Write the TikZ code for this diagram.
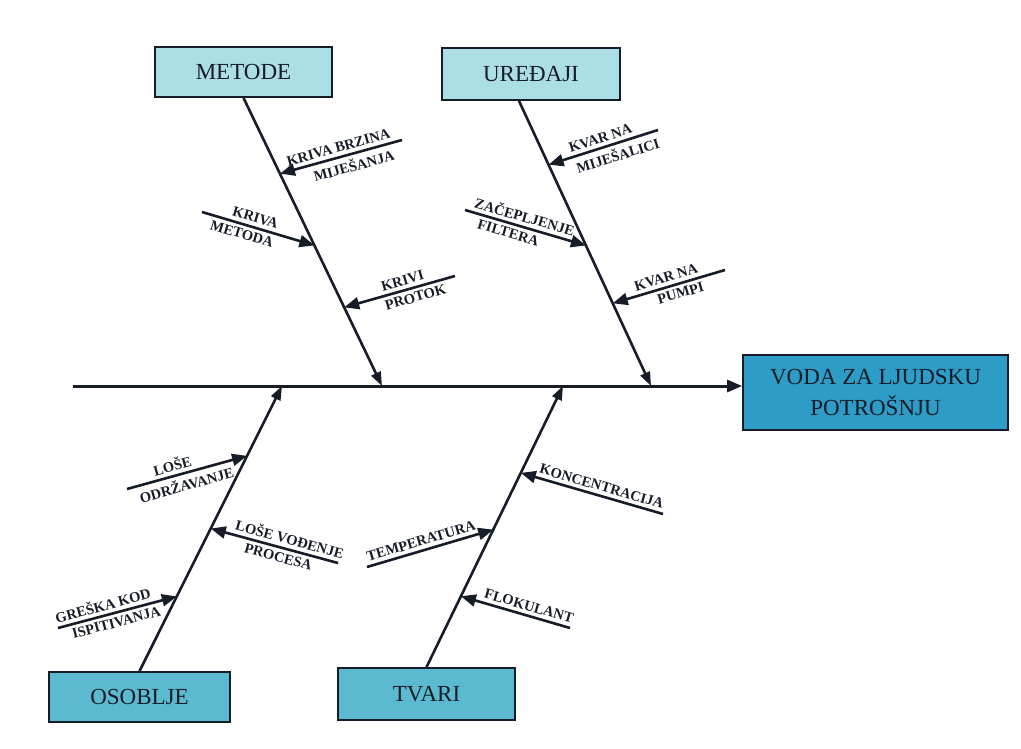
\documentclass[tikz,border=0pt]{standalone}
\usepackage{fontspec}
\setmainfont{Liberation Serif}
\usetikzlibrary{calc,arrows.meta}
\definecolor{lightbox}{RGB}{172,222,230}
\definecolor{midbox}{RGB}{92,186,208}
\definecolor{darkbox}{RGB}{45,156,198}
\definecolor{ink}{RGB}{22,28,40}
\tikzset{
  catbox/.style={draw=ink, line width=1.8pt, text=ink, font=\fontsize{23}{31}\selectfont, align=center, inner sep=0pt},
  spine/.style={draw=ink, line width=2.6pt, -{Triangle[length=14pt,width=10pt]}},
  bone/.style={draw=ink, line width=2.6pt, -{Triangle[length=15pt,width=12pt]}},
  lbl/.style={font=\bfseries\fontsize{14.5}{16}\selectfont, text=ink, sloped, inner sep=3.5pt}
}
\begin{document}
\begin{tikzpicture}[x=1pt,y=-1pt]
\useasboundingbox (0,0) rectangle (1021,749);
% category boxes
\node[catbox, fill=lightbox, minimum width=177pt, minimum height=50pt] (met) at (243.5,72) {METODE};
\node[catbox, fill=lightbox, minimum width=178pt, minimum height=52pt] (ure) at (531,74) {UREĐAJI};
\node[catbox, fill=midbox, minimum width=181pt, minimum height=50pt] (oso) at (139.5,697) {OSOBLJE};
\node[catbox, fill=midbox, minimum width=177pt, minimum height=52pt] (tva) at (426.5,694) {TVARI};
\node[catbox, fill=darkbox, minimum width=265pt, minimum height=75pt] (voda) at (875.5,392.5) {VODA ZA LJUDSKU\\POTROŠNJU};
% main line
\coordinate (mstart) at (73,386);
\draw[draw=ink, line width=3pt, -{Triangle[length=15pt,width=12pt]}] (mstart) -- (mstart -| voda.west);
% spine tips
\coordinate (mtip) at (382,386);
\coordinate (utip) at (651,386);
\coordinate (otip) at (282,386);
\coordinate (ttip) at (563,386);
\coordinate (ustart) at ([xshift=-12pt]ure.south);
\draw[spine] (met.south) -- (mtip);
\draw[spine] (ustart) -- (utip);
\draw[spine] (oso.north) -- (otip);
\draw[spine] (tva.north) -- (ttip);
% points on spines
\coordinate (m1) at ($(met.south)!0.263!(mtip)$);
\coordinate (m2) at ($(met.south)!0.512!(mtip)$);
\coordinate (m3) at ($(met.south)!0.727!(mtip)$);
\coordinate (u1) at ($(ustart)!0.224!(utip)$);
\coordinate (u2) at ($(ustart)!0.507!(utip)$);
\coordinate (u3) at ($(ustart)!0.71!(utip)$);
\coordinate (o1) at ($(oso.north)!0.755!(otip)$);
\coordinate (o2) at ($(oso.north)!0.5!(otip)$);
\coordinate (o3) at ($(oso.north)!0.262!(otip)$);
\coordinate (t1) at ($(tva.north)!0.691!(ttip)$);
\coordinate (t2) at ($(tva.north)!0.489!(ttip)$);
\coordinate (t3) at ($(tva.north)!0.252!(ttip)$);
% bone starts
\coordinate (bm1) at (402,140);
\coordinate (bm2) at (202,212);
\coordinate (bm3) at (455,276);
\coordinate (bu1) at (658,130);
\coordinate (bu2) at (465,210);
\coordinate (bu3) at (725,270);
\coordinate (bo1) at (127,489);
\coordinate (bo2) at (338,563);
\coordinate (bo3) at (58,628);
\coordinate (bt1) at (663,514);
\coordinate (bt2) at (367,567);
\coordinate (bt3) at (570,628);
% METODE bones
\draw[bone] (bm1) -- node[lbl, above, pos=0.5] {KRIVA BRZINA} node[lbl, below, pos=0.42] {MIJEŠANJA} (m1);
\draw[bone] (bm2) -- node[lbl, above, pos=0.45] {KRIVA} node[lbl, below, pos=0.38] {METODA} (m2);
\draw[bone] (bm3) -- node[lbl, above, pos=0.45] {KRIVI} node[lbl, below, pos=0.38] {PROTOK} (m3);
% UREDJAJI bones
\draw[bone] (bu1) -- node[lbl, above, pos=0.5] {KVAR NA} node[lbl, below, pos=0.4] {MIJEŠALICI} (u1);
\draw[bone] (bu2) -- node[lbl, above, pos=0.47] {ZAČEPLJENJE} node[lbl, below, pos=0.38] {FILTERA} (u2);
\draw[bone] (bu3) -- node[lbl, above, pos=0.5] {KVAR NA} node[lbl, below, pos=0.42] {PUMPI} (u3);
% OSOBLJE bones
\draw[bone] (bo1) -- node[lbl, above, pos=0.4] {LOŠE} node[lbl, below, pos=0.47] {ODRŽAVANJE} (o1);
\draw[bone] (bo2) -- node[lbl, above, pos=0.4] {LOŠE VOĐENJE} node[lbl, below, pos=0.45] {PROCESA} (o2);
\draw[bone] (bo3) -- node[lbl, above, pos=0.4] {GREŠKA KOD} node[lbl, below, pos=0.47] {ISPITIVANJA} (o3);
% TVARI bones
\draw[bone] (bt1) -- node[lbl, above, pos=0.45] {KONCENTRACIJA} (t1);
\draw[bone] (bt2) -- node[lbl, above, pos=0.45] {TEMPERATURA} (t2);
\draw[bone] (bt3) -- node[lbl, above, pos=0.4] {FLOKULANT} (t3);
\end{tikzpicture}
\end{document}
